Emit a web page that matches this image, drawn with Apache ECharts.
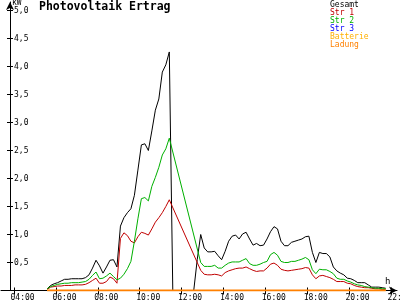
<!DOCTYPE html>
<html>
<head>
<meta charset="utf-8">
<title>Photovoltaik Ertrag</title>
<script src="https://cdn.jsdelivr.net/npm/echarts@6/dist/echarts.min.js"></script>
<style>html,body{margin:0;padding:0;background:#fff}#chart{width:400px;height:300px}</style>
</head>
<body>
<div id="chart"></div>
<script>
// Zeitpunkte (10-Minuten-Raster)
var times = [
  '05:35','05:45','05:55','06:05','06:15','06:25','06:35','06:45','06:55','07:05',
  '07:15','07:25','07:35','07:45','07:55','08:05','08:15','08:25','08:35','08:45',
  '08:55','09:05','09:15','09:25','09:35','09:45','09:55','10:05','10:15','10:25',
  '10:35','10:45','10:55','11:05','11:15','11:25','11:35','11:45','11:55','12:05',
  '12:15','12:25','12:35','12:45','12:55','13:05','13:15','13:25','13:35','13:45',
  '13:55','14:05','14:15','14:25','14:35','14:45','14:55','15:05','15:15','15:25',
  '15:35','15:45','15:55','16:05','16:15','16:25','16:35','16:45','16:55','17:05',
  '17:15','17:25','17:35','17:45','17:55','18:05','18:15','18:25','18:35','18:45',
  '18:55','19:05','19:15','19:25','19:35','19:45','19:55','20:05','20:15','20:25',
  '20:35','20:45','20:55','21:05','21:15','21:25','21:35','21:45'
];
// kW
var gesamt = [
  0.03,0.09,0.12,0.14,0.17,0.2,0.2,0.21,0.21,0.21,
  0.21,0.23,0.28,0.4,0.54,0.44,0.31,0.42,0.54,0.55,
  0.42,1.15,1.3,1.39,1.46,1.7,2.15,2.6,2.62,2.5,
  2.85,3.22,3.42,3.9,4.03,4.26,0,0,0,0,
  0,0,0,0.55,1.0,0.76,0.69,0.69,0.7,0.62,
  0.55,0.7,0.88,0.97,0.99,0.92,1.01,1.04,0.92,0.81,
  0.84,0.8,0.81,0.92,1.05,1.14,1.1,0.88,0.8,0.8,
  0.86,0.88,0.9,0.92,0.96,0.97,0.68,0.5,0.68,0.66,
  0.66,0.6,0.42,0.35,0.31,0.28,0.22,0.21,0.18,0.14,
  0.14,0.14,0.1,0.06,0.06,0.06,0.05,0.04
];
var str1 = [
  0.02,0.06,0.07,0.08,0.08,0.09,0.09,0.09,0.1,0.1,
  0.1,0.11,0.14,0.18,0.22,0.13,0.13,0.16,0.24,0.21,
  0.13,0.93,1.03,0.98,0.88,0.85,0.96,1.04,1.02,0.99,
  1.1,1.22,1.3,1.39,1.5,1.62,null,null,null,null,
  null,null,null,null,0.36,0.29,0.28,0.28,0.29,0.28,
  0.26,0.32,0.35,0.37,0.39,0.4,0.4,0.42,0.39,0.36,
  0.34,0.35,0.35,0.4,0.47,0.49,0.45,0.38,0.36,0.35,
  0.36,0.37,0.38,0.39,0.41,0.4,0.28,0.21,0.26,0.27,
  0.25,0.23,0.2,0.16,0.16,0.16,0.13,0.12,0.09,0.07,
  0.06,0.05,0.05,0.04,0.03,0.03,0.02,0.02
];
var str2 = [
  0.03,0.07,0.09,0.11,0.12,0.13,0.13,0.14,0.14,0.14,
  0.15,0.16,0.2,0.27,0.33,0.21,0.22,0.26,0.31,0.25,
  0.19,0.22,0.29,0.39,0.52,0.88,1.28,1.64,1.66,1.6,
  1.86,2.02,2.2,2.42,2.53,2.72,null,null,null,null,
  null,null,null,null,0.5,0.43,0.43,0.43,0.45,0.4,
  0.4,0.45,0.49,0.51,0.51,0.51,0.54,0.57,0.48,0.45,
  0.45,0.47,0.5,0.52,0.64,0.68,0.63,0.52,0.5,0.5,
  0.52,0.52,0.54,0.56,0.59,0.55,0.37,0.3,0.38,0.37,
  0.37,0.34,0.3,0.22,0.2,0.2,0.17,0.15,0.12,0.1,
  0.09,0.07,0.06,0.05,0.04,0.04,0.03,0.03
];
// Str 3, Batterie, Ladung liegen auf der Nulllinie
var flatTimes = ['05:35','21:45'];
var str3 = [0, 0];
var batterie = [0, 0];
var ladung = [0, 0];

var xTicks = [4, 6, 8, 10, 12, 14, 16, 18, 20, 22];
var yTicks = [0.5, 1, 1.5, 2, 2.5, 3, 3.5, 4, 4.5, 5];

var font = 'DejaVu Sans Mono';
var pxPerHour = 20.94;

function hours(s) {
  var p = s.split(':');
  return +p[0] + p[1] / 60;
}
function pairs(ts, vs) {
  return ts.map(function (t, i) { return [hours(t), vs[i]]; });
}
function pad(n) { return (n < 10 ? '0' : '') + n; }

var myChart = echarts.init(document.getElementById('chart'), null, {renderer: 'canvas'});

var xMin = 4 - 13 / pxPerHour, xMax = xMin + 396 / pxPerHour;
var yMax = 288.5 / 56;

var option = {
  animation: false,
  backgroundColor: '#fff',
  title: {
    text: 'Photovoltaik Ertrag',
    left: 39, top: 0, padding: 0,
    textStyle: {fontFamily: font, fontSize: 11.5, fontWeight: 'bold', color: '#000', lineHeight: 14}
  },
  legend: {
    orient: 'vertical', left: 325, top: 1, padding: 0,
    itemGap: 0, itemWidth: 0, itemHeight: 8, icon: 'none',
    selectedMode: false,
    textStyle: {fontFamily: font, fontSize: 8, lineHeight: 8},
    data: [
      {name: 'Gesamt', textStyle: {color: '#000000'}},
      {name: 'Str 1', textStyle: {color: '#c00000'}},
      {name: 'Str 2', textStyle: {color: '#00b000'}},
      {name: 'Str 3', textStyle: {color: '#0000ff'}},
      {name: 'Batterie', textStyle: {color: '#ffb000'}},
      {name: 'Ladung', textStyle: {color: '#ff8000'}}
    ]
  },
  grid: {left: 1, right: 3, top: 2, bottom: 9.5, outerBoundsMode: 'none', containLabel: false},
  xAxis: [{
    type: 'value', min: xMin, max: xMax, position: 'bottom',
    name: 'h', nameLocation: 'end', nameGap: -12,
    nameTextStyle: {fontFamily: font, fontSize: 9, color: '#000', align: 'left', verticalAlign: 'bottom', padding: [0, 0, 4, 0]},
    axisLine: {onZero: false, symbol: ['none', 'arrow'], symbolSize: [6, 8], lineStyle: {color: '#000', width: 1}},
    axisTick: {customValues: xTicks, length: 4, lineStyle: {color: '#000'}},
    axisLabel: {
      customValues: xTicks.map(function (h) { return h - 3.5 / pxPerHour; }),
      formatter: function (v) { return pad(Math.round(v)) + ':00'; },
      align: 'left', margin: 3, fontFamily: font, fontSize: 8, color: '#000'
    },
    splitLine: {show: false}
  }, {
    type: 'value', min: xMin, max: xMax, position: 'bottom',
    axisLine: {show: false},
    axisTick: {customValues: xTicks, inside: true, length: 3, lineStyle: {color: '#000'}},
    axisLabel: {show: false},
    splitLine: {show: false}
  }],
  yAxis: [{
    type: 'value', min: 0, max: yMax, position: 'left', offset: -9,
    name: 'kW', nameLocation: 'end', nameGap: 0,
    nameTextStyle: {fontFamily: font, fontSize: 8, color: '#000', align: 'left', verticalAlign: 'top', padding: [0, 0, 0, 2]},
    axisLine: {show: true, onZero: false, symbol: ['none', 'arrow'], symbolSize: [6, 8], lineStyle: {color: '#000', width: 1}},
    axisTick: {show: true, customValues: yTicks, length: 3, lineStyle: {color: '#000'}},
    axisLabel: {
      inside: true, customValues: yTicks, margin: 4,
      formatter: function (v) { return v.toFixed(1).replace('.', ','); },
      fontFamily: font, fontSize: 8, color: '#000'
    },
    splitLine: {show: false}
  }, {
    type: 'value', min: 0, max: yMax, position: 'left', offset: -9,
    axisLine: {show: false},
    axisTick: {show: true, inside: true, customValues: yTicks, length: 3, lineStyle: {color: '#000'}},
    axisLabel: {show: false},
    splitLine: {show: false}
  }],
  series: [
    {name: 'Gesamt', type: 'line', data: pairs(times, gesamt), color: '#000000'},
    {name: 'Str 1', type: 'line', data: pairs(times, str1), color: '#c00000', connectNulls: true},
    {name: 'Str 2', type: 'line', data: pairs(times, str2), color: '#00b000', connectNulls: true},
    {name: 'Str 3', type: 'line', data: pairs(flatTimes, str3), color: '#0000ff'},
    {name: 'Batterie', type: 'line', data: pairs(flatTimes, batterie), color: '#ffb000'},
    {name: 'Ladung', type: 'line', data: pairs(flatTimes, ladung), color: '#ff8000', lineStyle: {width: 2}}
  ].map(function (s) {
    s.showSymbol = false;
    s.silent = true;
    s.xAxisIndex = 0;
    s.yAxisIndex = 0;
    s.lineStyle = s.lineStyle || {width: 1};
    return s;
  })
};

myChart.setOption(option);
</script>
</body>
</html>
